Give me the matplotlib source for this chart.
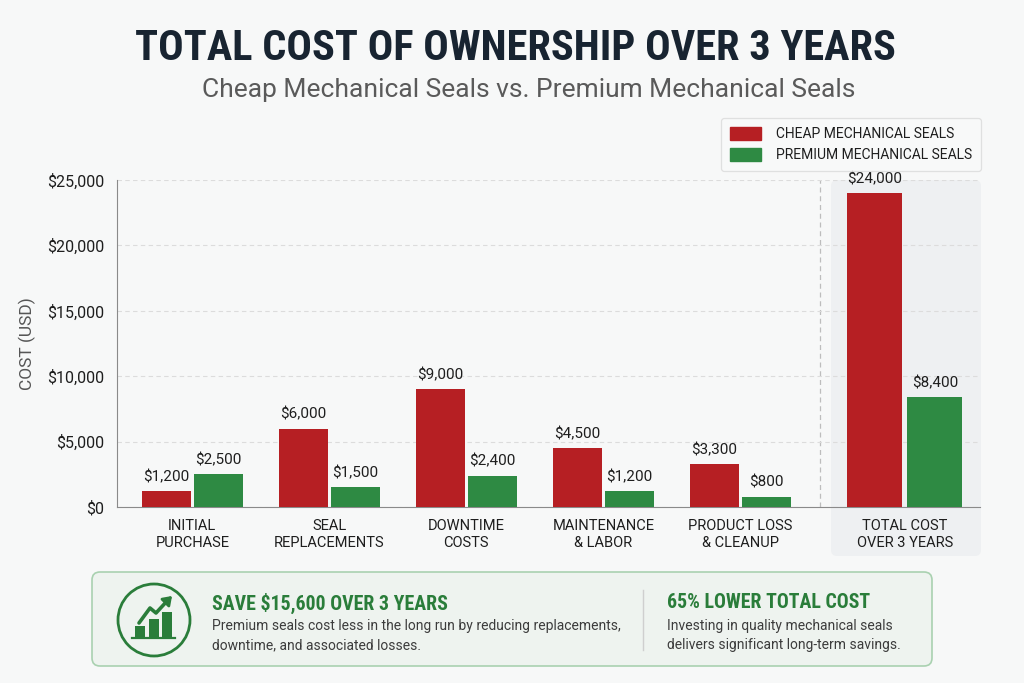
import matplotlib
matplotlib.use("Agg")
import matplotlib.pyplot as plt
import matplotlib.ticker as ticker
from matplotlib.patches import FancyBboxPatch, Circle, Rectangle, Patch
import numpy as np

plt.rcParams['font.family'] = ['Roboto', 'DejaVu Sans']
CONDENSED = ['Roboto Condensed', 'Roboto', 'DejaVu Sans']

categories = ["INITIAL\nPURCHASE", "SEAL\nREPLACEMENTS", "DOWNTIME\nCOSTS",
              "MAINTENANCE\n& LABOR", "PRODUCT LOSS\n& CLEANUP",
              "TOTAL COST\nOVER 3 YEARS"]
cheap = [1200, 6000, 9000, 4500, 3300, 24000]
premium = [2500, 1500, 2400, 1200, 800, 8400]
series_names = ["CHEAP MECHANICAL SEALS", "PREMIUM MECHANICAL SEALS"]
yticks = [0, 5000, 10000, 15000, 20000, 25000]

RED = "#b61f23"
GREEN = "#2e8a43"
DARK_GREEN = "#2a7d3a"
BG = "#f7f8f8"

fig = plt.figure(figsize=(10.24, 6.83), dpi=100, facecolor=BG)

# background layer in pixel coords for panels / callout box
bg = fig.add_axes([0, 0, 1, 1], zorder=0)
bg.set_xlim(0, 1024)
bg.set_ylim(683, 0)
bg.axis('off')

# shaded panel behind the total group
bg.add_patch(FancyBboxPatch((831, 180), 150, 376,
                            boxstyle="round,pad=0,rounding_size=6",
                            fc="#eef0f2", ec="none"))

# main chart
ax = fig.add_axes([117 / 1024, 1 - 507 / 683, 863 / 1024, 327 / 683], zorder=1)
ax.set_facecolor('none')

x = np.array([0, 1, 2, 3, 4, 5.2])
width = 0.36
off = 0.19
b1 = ax.bar(x - off, cheap, width, color=RED, zorder=3)
b2 = ax.bar(x + off, premium, width, color=GREEN, zorder=3)
# the total group bars are a bit wider
for bars in (b1, b2):
    bars[-1].set_width(0.40)
b1[-1].set_x(x[-1] - 0.02 - 0.40)
b2[-1].set_x(x[-1] + 0.02)

for bars, vals in ((b1, cheap), (b2, premium)):
    for r, v in zip(bars, vals):
        ax.annotate(f"${v:,}", (r.get_x() + r.get_width() / 2, v),
                    xytext=(0, 5), textcoords="offset points",
                    ha="center", va="bottom", fontsize=11, color="#1e1e1e")

ax.set_xlim(-0.55, 5.75)
ax.set_ylim(0, 25000)
ax.set_yticks(yticks)
ax.yaxis.set_major_formatter(ticker.FuncFormatter(lambda v, p: f"${int(v):,}"))
ax.set_xticks(x, categories)
ax.tick_params(axis='y', length=0, pad=9, labelsize=11.5, labelcolor="#1e1e1e")
ax.tick_params(axis='x', length=0, pad=9, labelsize=10.5, labelcolor="#1e1e1e")
ax.grid(axis='y', linestyle=(0, (4, 3)), color="#dcdcdc", lw=0.8, zorder=0)
for s in ("top", "right"):
    ax.spines[s].set_visible(False)
ax.spines['left'].set_color("#8a8a8a")
ax.spines['bottom'].set_color("#8a8a8a")
ax.axvline(4.58, color="#bdbdbd", lw=0.9, linestyle=(0, (4, 3)), zorder=1)
ax.set_ylabel("COST (USD)", fontsize=12.5, color="#555555", labelpad=8)

# legend
handles = [Patch(color=RED), Patch(color=GREEN)]
leg = fig.legend(handles, series_names, loc="upper right",
                 bbox_to_anchor=(981 / 1024, 1 - 118 / 683),
                 fontsize=10, frameon=True, fancybox=True,
                 handlelength=2.2, handleheight=1.1, handletextpad=1.1,
                 borderpad=0.65, labelspacing=0.45, borderaxespad=0)
leg.get_frame().set_facecolor("#f9fafa")
leg.get_frame().set_edgecolor("#dadada")
leg.get_frame().set_linewidth(0.9)
for t in leg.get_texts():
    t.set_color("#1e1e1e")

# titles
fig.text(515 / 1024, 1 - 48 / 683, "TOTAL COST OF OWNERSHIP OVER 3 YEARS",
         ha="center", va="center", fontsize=30.5, fontweight="bold",
         family=CONDENSED, color="#182431")
fig.text(529 / 1024, 1 - 90 / 683, "Cheap Mechanical Seals vs. Premium Mechanical Seals",
         ha="center", va="center", fontsize=19, color="#5a5a5a")

# callout box
bg.add_patch(FancyBboxPatch((92, 572), 840, 94,
                            boxstyle="round,pad=0,rounding_size=8",
                            fc="#eef3ef", ec="#a9d1b0", lw=1.2))
bg.add_patch(Circle((154, 620), 36, fc="none", ec=DARK_GREEN, lw=2))
for bx, top in ((135, 626), (149, 619), (162, 612)):
    bg.add_patch(Rectangle((bx, top), 10, 637 - top, fc=DARK_GREEN, ec="none"))
bg.plot([132, 175], [638, 638], color=DARK_GREEN, lw=1.6)
bg.plot([139, 150, 156, 168], [623, 608, 613, 600], color=DARK_GREEN, lw=2.6,
        solid_capstyle="round", solid_joinstyle="round")
bg.annotate("", xy=(174, 594), xytext=(166, 602),
            arrowprops=dict(arrowstyle="-|>,head_length=0.5,head_width=0.35",
                            color=DARK_GREEN, lw=2))
bg.plot([643, 643], [590, 650], color="#cfcfcf", lw=1)

bg.text(212, 603, "SAVE $15,600 OVER 3 YEARS", ha="left", va="center",
        fontsize=14.3, fontweight="bold", family=CONDENSED, color=DARK_GREEN)
bg.text(212, 626, "Premium seals cost less in the long run by reducing replacements,",
        ha="left", va="center", fontsize=10, color="#3c3c3c")
bg.text(212, 645, "downtime, and associated losses.",
        ha="left", va="center", fontsize=10, color="#3c3c3c")
bg.text(667, 603, "65% LOWER TOTAL COST", ha="left", va="center",
        fontsize=14.3, fontweight="bold", family=CONDENSED, color=DARK_GREEN)
bg.text(667, 626, "Investing in quality mechanical seals",
        ha="left", va="center", fontsize=10, color="#3c3c3c")
bg.text(667, 645, "delivers significant long-term savings.",
        ha="left", va="center", fontsize=10, color="#3c3c3c")

fig.savefig("out.png", dpi=100, facecolor=BG)
